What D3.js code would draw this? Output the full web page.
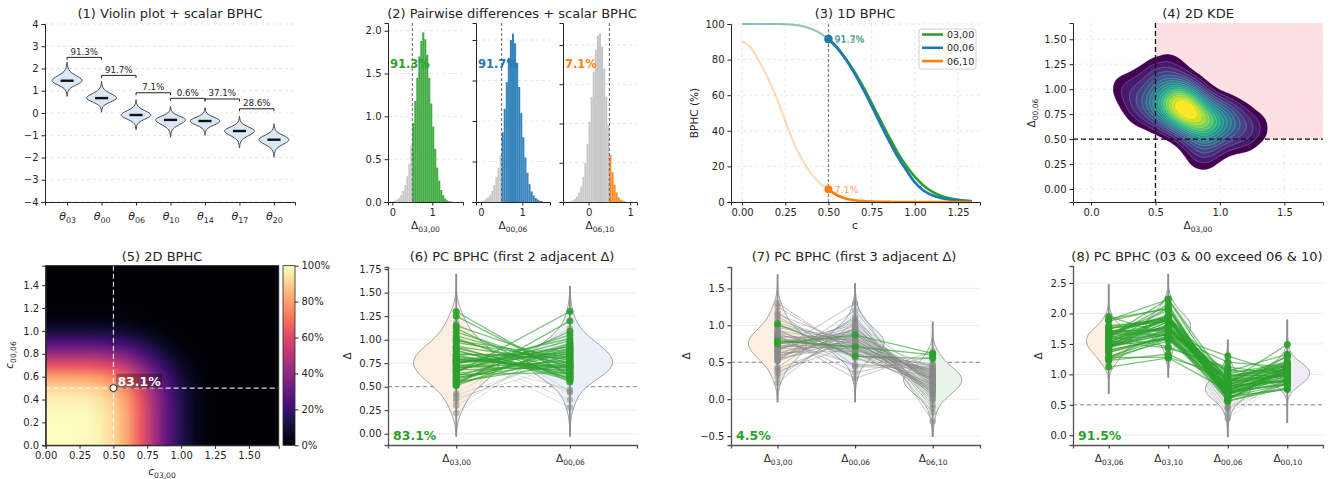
<!DOCTYPE html>
<html>
<head>
<meta charset="utf-8">
<script src="https://cdn.jsdelivr.net/npm/d3@7"></script>
<style>
body { margin: 0; background: #fff; }
svg { font-family: "DejaVu Sans", sans-serif; }
</style>
</head>
<body>
<svg id="fig" width="1337" height="479"></svg>
<script>
// ---------- (1) violins of the thetas ----------
var thetaLabels = ["03", "00", "06", "10", "14", "17", "20"];
var thetaMedian = [1.45, 0.67, -0.09, -0.31, -0.36, -0.81, -1.20];
var thetaLow    = [0.75, 0.04, -0.75, -1.08, -1.00, -1.57, -1.98];
var thetaHigh   = [2.29, 1.42, 0.60, 0.30, 0.24, -0.15, -0.48];
var violinShape = [1, 0.93, 0.76, 0.55, 0.35, 0.20, 0.11, 0.06, 0.03, 0.015, 0.005];
var adjBphc     = ["91.3%", "91.7%", "7.1%", "0.6%", "37.1%", "28.6%"];
var bracketY    = [2.50, 1.69, 0.91, 0.66, 0.63, 0.19];

// ---------- (2) histograms of pairwise differences ----------
var pairLabels = ["03,00", "00,06", "06,10"];
var pairBphc   = ["91.3%", "91.7%", "7.1%"];
var histStart  = [0.0, 0.0, -0.5];
var hist0300 = [0.01, 0.02, 0.03, 0.05, 0.08, 0.13, 0.20, 0.30, 0.45, 0.66, 0.92, 1.18, 1.45, 1.70, 1.88,
                1.98, 1.90, 1.72, 1.45, 1.15, 0.88, 0.62, 0.40, 0.25, 0.14, 0.08, 0.04, 0.02, 0.01, 0.005];
var hist0006 = [0.01, 0.02, 0.04, 0.06, 0.09, 0.14, 0.21, 0.31, 0.42, 0.58, 0.86, 1.15, 1.48, 1.78, 2.00,
                2.08, 1.96, 1.72, 1.42, 1.10, 0.80, 0.55, 0.36, 0.22, 0.13, 0.08, 0.05, 0.03, 0.015, 0.01];
var hist0610 = [0.005, 0.01, 0.02, 0.04, 0.07, 0.12, 0.20, 0.32, 0.50, 0.74, 1.02, 1.34, 1.66, 1.94,
                2.12, 2.15, 1.98, 1.70, 1.34, 0.98, 0.60, 0.38, 0.22, 0.12, 0.06, 0.03, 0.015, 0.008];

// ---------- (3) 1D BPHC curves ----------
var cGrid    = [0, 0.05, 0.1, 0.15, 0.2, 0.25, 0.3, 0.35, 0.4, 0.45, 0.5, 0.55, 0.6, 0.65, 0.7,
                0.75, 0.8, 0.85, 0.9, 0.95, 1.0, 1.05, 1.1, 1.15, 1.2, 1.25, 1.3, 1.33];
var bphc0300 = [100, 100, 100, 100, 100, 99.9, 99.5, 98.7, 97.1, 94.8, 91.3, 86.6, 80.5, 73.2, 64.8,
                55.6, 46.0, 36.7, 27.9, 20.3, 14.1, 9.3, 5.8, 3.5, 2.1, 1.2, 0.7, 0.5];
var bphc0006 = [100, 100, 100, 100, 100, 99.9, 99.6, 98.9, 97.4, 95.2, 91.7, 86.7, 80.2, 72.4, 63.5,
                54.0, 44.0, 34.5, 25.5, 18.0, 11.0, 6.5, 3.8, 2.3, 1.4, 0.8, 0.5, 0.4];
var bphc0610 = [90.4, 86.8, 79.0, 69.5, 58.5, 45.5, 33.0, 23.5, 16.0, 10.5, 7.1, 3.8, 2.0, 1.0, 0.5,
                0.25, 0.1, 0.05, 0, 0, 0, 0, 0, 0, 0, 0, 0, 0];

// ---------- (5) 2D BPHC grid (rows: c00,06 from 0 upward, cols: c03,00) ----------
var heatC1 = [0, 0.1, 0.2, 0.3, 0.4, 0.5, 0.6, 0.7, 0.8, 0.9, 1.0, 1.1, 1.2, 1.3, 1.4, 1.5, 1.6, 1.7];
var heatC2 = [0, 0.1, 0.2, 0.3, 0.4, 0.5, 0.6, 0.7, 0.8, 0.9, 1.0, 1.1, 1.2, 1.3, 1.4, 1.5, 1.6];
var bphc2d = [
  [100, 100, 100, 99.5, 97.1, 91.3, 80.5, 64.8, 46.0, 27.9, 14.1, 5.8, 2.1, 0.7, 0.2, 0.05, 0, 0],
  [100, 100, 100, 99.5, 97.1, 91.3, 80.5, 64.8, 46.0, 27.9, 14.1, 5.8, 2.1, 0.7, 0.2, 0.05, 0, 0],
  [100, 100, 100, 99.5, 97.1, 91.3, 80.5, 64.8, 46.0, 27.9, 14.1, 5.8, 2.1, 0.7, 0.2, 0.05, 0, 0],
  [99.6, 99.6, 99.6, 99.1, 96.7, 90.9, 80.2, 64.5, 45.8, 27.8, 14.0, 5.8, 2.1, 0.7, 0.2, 0, 0, 0],
  [97.4, 97.4, 97.4, 96.9, 94.5, 88.8, 78.3, 63.0, 44.7, 27.1, 13.7, 5.6, 2.0, 0.7, 0.2, 0, 0, 0],
  [91.7, 91.7, 91.7, 91.2, 89.0, 83.1, 73.6, 59.0, 41.7, 25.2, 12.7, 5.2, 1.9, 0.6, 0.2, 0, 0, 0],
  [80.2, 80.2, 80.2, 79.8, 77.8, 72.9, 63.8, 50.5, 35.2, 20.8, 10.2, 4.1, 1.5, 0.5, 0.1, 0, 0, 0],
  [63.5, 63.5, 63.5, 63.2, 61.6, 57.6, 50.0, 39.0, 26.5, 15.2, 7.2, 2.8, 1.0, 0.3, 0.1, 0, 0, 0],
  [44.0, 44.0, 44.0, 43.8, 42.6, 39.8, 34.2, 26.0, 17.0, 9.3, 4.2, 1.6, 0.5, 0.2, 0, 0, 0, 0],
  [25.5, 25.5, 25.5, 25.4, 24.7, 23.0, 19.5, 14.5, 9.2, 4.9, 2.1, 0.8, 0.3, 0.1, 0, 0, 0, 0],
  [11.0, 11.0, 11.0, 10.9, 10.6, 9.9, 8.3, 6.1, 3.8, 2.0, 0.8, 0.3, 0.1, 0, 0, 0, 0, 0],
  [3.8, 3.8, 3.8, 3.8, 3.7, 3.4, 2.8, 2.0, 1.2, 0.6, 0.2, 0.1, 0, 0, 0, 0, 0, 0],
  [1.5, 1.5, 1.5, 1.5, 1.4, 1.3, 1.1, 0.8, 0.5, 0.2, 0.1, 0, 0, 0, 0, 0, 0, 0],
  [0.5, 0.5, 0.5, 0.5, 0.5, 0.4, 0.3, 0.2, 0.1, 0, 0, 0, 0, 0, 0, 0, 0, 0],
  [0.1, 0.1, 0.1, 0.1, 0.1, 0.1, 0.1, 0, 0, 0, 0, 0, 0, 0, 0, 0, 0, 0],
  [0, 0, 0, 0, 0, 0, 0, 0, 0, 0, 0, 0, 0, 0, 0, 0, 0, 0],
  [0, 0, 0, 0, 0, 0, 0, 0, 0, 0, 0, 0, 0, 0, 0, 0, 0, 0]
];

// ---------- (4), (6)-(8) posterior draws of the differences ----------
var d0300 = [0.78, 0.55, 1.02, 0.66, 0.91, 0.72, 0.43, 0.84, 1.18, 0.61, 0.79, 0.95, 0.35, 0.70, 0.88,
             1.08, 0.52, 0.76, 0.64, 0.99, 0.81, 0.53, 1.25, 0.74, 0.58, 0.86, 0.69, 0.93, 0.30, 0.77,
             1.12, 0.63, 0.83, 0.56, 0.97, 0.73, 0.41, 0.89, 0.67, 1.04, 0.80, 0.60, 0.75, 1.30, 0.51,
             0.85, 0.71, 0.92, 0.38, 0.82, 0.65, 1.15, 0.54, 0.79, 0.87, 0.22, 0.68, 1.00, 0.76, 0.59];
var d0006 = [0.92, 0.74, 0.58, 1.05, 0.62, 0.68, 1.12, 0.85, 0.45, 0.96, 0.71, 0.44, 0.88, 0.77, 0.59,
             0.70, 1.20, 0.90, 0.79, 0.81, 0.66, 0.83, 0.63, 1.01, 0.86, 0.36, 0.89, 0.75, 0.98, 0.84,
             0.55, 0.65, 0.64, 0.91, 0.78, 0.73, 0.82, 0.57, 0.99, 0.72, 0.47, 0.76, 0.87, 0.61, 0.95,
             0.80, 0.93, 0.60, 0.74, 0.69, 1.30, 0.74, 1.09, 0.70, 0.28, 1.05, 0.71, 0.66, 0.82, 0.88];
var d0610 = [0.05, 0.31, 0.55, 0.02, 0.41, 0.19, -0.12, 0.28, 0.47, 0.22, 0.60, 0.42, 0.10, 0.35, 0.48,
             0.14, -0.08, -0.02, 0.30, 0.09, 0.45, 0.27, 0.21, 0.18, 0.43, 0.58, 0.33, 0.26, 0.00, 0.16,
             0.29, 0.40, 0.11, 0.23, 0.13, 0.33, 0.36, 0.20, 0.07, 0.12, 0.44, 0.25, 0.62, 0.17, 0.20,
             0.31, 0.24, 0.38, 0.15, 0.29, -0.30, 0.34, -0.18, 0.37, 0.65, 0.28, 0.22, 0.39, 0.06, 0.26];
var d0306 = [1.70, 1.29, 1.60, 1.71, 1.53, 1.40, 1.55, 1.69, 1.63, 1.57, 1.50, 1.39, 1.23, 1.47, 1.47,
             1.78, 1.72, 1.66, 1.43, 1.80, 1.47, 1.36, 1.88, 1.75, 1.44, 1.22, 1.58, 1.68, 1.28, 1.61,
             1.67, 1.28, 1.47, 1.47, 1.75, 1.46, 1.23, 1.46, 1.66, 1.76, 1.27, 1.36, 1.62, 1.91, 1.46,
             1.65, 1.64, 1.52, 1.12, 1.51, 1.95, 1.89, 1.63, 1.49, 1.15, 1.27, 1.39, 1.66, 1.58, 1.47];
var d0310 = [1.75, 1.60, 2.15, 1.73, 1.94, 1.59, 1.43, 1.97, 2.10, 1.79, 2.10, 1.81, 1.33, 1.82, 1.95,
             1.92, 1.64, 1.64, 1.73, 1.89, 1.92, 1.63, 2.09, 1.93, 1.87, 1.80, 1.91, 1.94, 1.28, 1.77,
             1.96, 1.68, 1.58, 1.70, 1.88, 1.79, 1.59, 1.66, 1.73, 1.88, 1.71, 1.61, 2.24, 2.08, 1.66,
             1.96, 1.88, 1.90, 1.27, 1.80, 1.65, 2.23, 1.45, 1.86, 1.80, 1.55, 1.61, 2.05, 1.64, 1.73];
var d0010 = [0.97, 1.05, 1.13, 1.07, 1.03, 0.87, 1.00, 1.13, 0.92, 1.18, 1.31, 0.86, 0.98, 1.12, 1.07,
             0.84, 1.12, 0.88, 1.09, 0.90, 1.11, 1.10, 0.84, 1.19, 1.29, 0.94, 1.22, 1.01, 0.98, 1.00,
             0.84, 1.05, 0.75, 1.14, 0.91, 1.06, 1.18, 0.77, 1.06, 0.84, 0.91, 1.01, 1.49, 0.78, 1.15,
             1.11, 1.17, 0.98, 0.89, 0.98, 1.00, 1.08, 0.91, 1.07, 0.93, 1.33, 0.93, 1.05, 0.88, 1.14];
var ext6 = [[-0.03, 1.70], [-0.03, 1.57]];
var ext7 = [[-0.04, 1.69], [-0.04, 1.57], [-0.51, 1.05]];
var ext8 = [[0.68, 2.48], [0.95, 2.65], [-0.03, 1.57], [0.20, 1.90]];
var pcBphc = ["83.1%", "4.5%", "91.5%"];

// tick values
var ticks6 = [0, 0.25, 0.5, 0.75, 1.0, 1.25, 1.5, 1.75];
var ticks7 = [-0.5, 0, 0.5, 1.0, 1.5];
var ticks8 = [0, 0.5, 1.0, 1.5, 2.0, 2.5];

var svg = d3.select("#fig");
var FONT = "DejaVu Sans";
var INK = "#262626";
var GREEN = "#2ca02c", BLUE = "#1f77b4", ORANGE = "#ff7f0e";

function styleAxis(g, spine, sw) {
    g.attr("font-family", FONT).attr("font-size", 10);
    g.select(".domain").attr("stroke", spine || INK).attr("stroke-width", sw || 1);
    g.selectAll(".tick line").attr("stroke", INK);
    g.selectAll(".tick text").attr("fill", INK);
    return g;
}

// main text + subscript, e.g. Δ_{03,00}
function subText(sel, main, sub, size, italic) {
    sel.text(null).style("font-size", size + "px");
    sel.append("tspan").style("font-style", italic ? "italic" : "normal").text(main);
    sel.append("tspan").attr("dy", size * 0.32).style("font-size", (size * 0.72) + "px").text(sub);
    return sel;
}

function addText(x, y, size, txt) {
    return svg.append("text").attr("x", x).attr("y", y).attr("text-anchor", "middle")
        .attr("fill", INK).style("font-size", size + "px").text(txt);
}

function hgrid(g, y, vals, x0, x1, color, dash) {
    g.append("g").selectAll("line").data(vals).join("line")
        .attr("x1", x0).attr("x2", x1)
        .attr("y1", function (d) { return y(d); }).attr("y2", function (d) { return y(d); })
        .attr("stroke", color).attr("stroke-width", 0.8).attr("stroke-dasharray", dash);
}

function vgrid(g, x, vals, y0, y1, color, dash) {
    g.append("g").selectAll("line").data(vals).join("line")
        .attr("y1", y0).attr("y2", y1)
        .attr("x1", function (d) { return x(d); }).attr("x2", function (d) { return x(d); })
        .attr("stroke", color).attr("stroke-width", 0.8).attr("stroke-dasharray", dash);
}

// ================= (1) Violin plot + scalar BPHC =================
(function () {
    var X0 = 45, X1 = 295, Y0 = 24, Y1 = 202;
    var x = d3.scaleLinear().domain([-0.64, 6.61]).range([X0, X1]);
    var y = d3.scaleLinear().domain([-4, 4]).range([Y1, Y0]);
    var g = svg.append("g");
    hgrid(g, y, y.ticks(8), X0, X1, "#dcdcdc", "3,3");

    var hw = 0.435, n = violinShape.length - 1;
    thetaLabels.forEach(function (lab, i) {
        var pts = [];
        for (var k = n; k >= 0; k--) pts.push([thetaMedian[i] - (thetaMedian[i] - thetaLow[i]) * k / n, violinShape[k]]);
        for (var k2 = 1; k2 <= n; k2++) pts.push([thetaMedian[i] + (thetaHigh[i] - thetaMedian[i]) * k2 / n, violinShape[k2]]);
        var area = d3.area().curve(d3.curveCatmullRom)
            .y(function (d) { return y(d[0]); })
            .x0(function (d) { return x(i - hw * d[1]); })
            .x1(function (d) { return x(i + hw * d[1]); });
        g.append("path").attr("d", area(pts)).attr("fill", "#dbe8f5")
            .attr("stroke", "#3a3a3a").attr("stroke-width", 0.9);
        g.append("line").attr("x1", x(i - 0.19)).attr("x2", x(i + 0.19))
            .attr("y1", y(thetaMedian[i])).attr("y2", y(thetaMedian[i]))
            .attr("stroke", "#111").attr("stroke-width", 2.4);
    });

    adjBphc.forEach(function (t, i) {
        var yy = y(bracketY[i]);
        g.append("path").attr("d", "M" + x(i) + "," + (yy + 2.5) + "V" + yy + "H" + x(i + 1) + "V" + (yy + 2.5))
            .attr("fill", "none").attr("stroke", "#222").attr("stroke-width", 1);
        g.append("text").attr("x", (x(i) + x(i + 1)) / 2).attr("y", yy - 2.5)
            .attr("text-anchor", "middle").attr("fill", INK).style("font-size", "8.7px").text(t);
    });

    styleAxis(g.append("g").attr("transform", "translate(" + X0 + ",0)")
        .call(d3.axisLeft(y).tickValues(y.ticks(8)).tickFormat(d3.format("d")).tickSizeOuter(0).tickSize(3.5)));
    var ax = styleAxis(g.append("g").attr("transform", "translate(0," + Y1 + ")")
        .call(d3.axisBottom(x).tickValues(thetaLabels.map(function (d, i) { return i; })).tickSizeOuter(0).tickSize(3.5)));
    ax.selectAll(".tick text").attr("dy", "1.0em").each(function (d) {
        subText(d3.select(this), "θ", thetaLabels[d], 11, true);
    });
    addText(170, 18, 13, "(1) Violin plot + scalar BPHC");
})();

// ================= (2) Pairwise differences + scalar BPHC =================
(function () {
    var Y0 = 23, Y1 = 202, bw = 0.05;
    var subs = [
        { X0: 388, X1: 463, dom: [-0.11, 1.77], top: 2.09, dens: hist0300, col: GREEN },
        { X0: 476, X1: 550, dom: [-0.12, 1.67], top: 2.21, dens: hist0006, col: BLUE },
        { X0: 563, X1: 637, dom: [-0.615, 1.165], top: 2.28, dens: hist0610, col: ORANGE }
    ];
    var yt = [0, 0.5, 1.0, 1.5, 2.0];
    subs.forEach(function (s, j) {
        var x = d3.scaleLinear().domain(s.dom).range([s.X0, s.X1]);
        var y = d3.scaleLinear().domain([0, s.top]).range([Y1, Y0]);
        var g = svg.append("g");
        hgrid(g, y, yt.slice(1), s.X0, s.X1, "#dedede", "3,3");
        var start = histStart[j];
        g.append("g").selectAll("rect").data(s.dens).join("rect")
            .attr("x", function (d, i) { return x(start + i * bw); })
            .attr("width", function (d, i) { return x(start + (i + 1) * bw) - x(start + i * bw); })
            .attr("y", function (d) { return y(d); })
            .attr("height", function (d) { return Y1 - y(d); })
            .attr("fill", function (d, i) { return start + i * bw > 0.5 - 1e-9 ? s.col : "#c8c8c8"; })
            .attr("fill-opacity", function (d, i) { return start + i * bw > 0.5 - 1e-9 ? 0.9 : 1; });
        g.append("line").attr("x1", x(0.5)).attr("x2", x(0.5)).attr("y1", Y0).attr("y2", Y1)
            .attr("stroke", "#666").attr("stroke-width", 1).attr("stroke-dasharray", "3,2");
        g.append("text").attr("x", s.X0 + 2).attr("y", 68).attr("fill", s.col)
            .style("font-size", "11.5px").style("font-weight", "bold").text(pairBphc[j]);
        styleAxis(g.append("g").attr("transform", "translate(" + s.X0 + ",0)")
            .call(d3.axisLeft(y).tickValues(yt).tickFormat(j === 0 ? d3.format(".1f") : function () { return ""; })
                .tickSizeOuter(0).tickSize(3.5)));
        styleAxis(g.append("g").attr("transform", "translate(0," + Y1 + ")")
            .call(d3.axisBottom(x).tickValues([0, 1]).tickFormat(d3.format("d")).tickSizeOuter(0).tickSize(3.5)));
        subText(addText((s.X0 + s.X1) / 2, 229, 10.5, ""), "Δ", pairLabels[j], 10.5, false);
    });
    addText(512, 18, 13, "(2) Pairwise differences + scalar BPHC");
})();

// ================= (3) 1D BPHC =================
(function () {
    var X0 = 731, X1 = 980, Y0 = 24, Y1 = 202;
    var x = d3.scaleLinear().domain([-0.064, 1.377]).range([X0, X1]);
    var y = d3.scaleLinear().domain([0, 100]).range([Y1, Y0]);
    var g = svg.append("g");
    var xt = [0, 0.25, 0.5, 0.75, 1.0, 1.25], yt = [0, 20, 40, 60, 80, 100];
    vgrid(g, x, xt, Y0, Y1, "#e2e2e2", "3,3");
    hgrid(g, y, yt, X0, X1, "#e2e2e2", "3,3");
    g.append("line").attr("x1", x(0.5)).attr("x2", x(0.5)).attr("y1", Y0).attr("y2", Y1)
        .attr("stroke", "#888").attr("stroke-width", 1.3).attr("stroke-dasharray", "3,2");

    var series = [
        { v: bphc0300, col: GREEN, lab: pairLabels[0], txt: pairBphc[0] },
        { v: bphc0006, col: BLUE, lab: pairLabels[1], txt: pairBphc[1] },
        { v: bphc0610, col: ORANGE, lab: pairLabels[2], txt: pairBphc[2] }
    ];
    var line = d3.line().curve(d3.curveMonotoneX)
        .x(function (d) { return x(d[0]); }).y(function (d) { return y(d[1]); });
    var iHalf = cGrid.indexOf(0.5);
    series.forEach(function (s) {
        var pts = cGrid.map(function (c, i) { return [c, s.v[i]]; });
        g.append("path").attr("d", line(pts.slice(0, iHalf + 1))).attr("fill", "none")
            .attr("stroke", s.col).attr("stroke-opacity", 0.3).attr("stroke-width", 2);
    });
    series.forEach(function (s) {
        var pts = cGrid.map(function (c, i) { return [c, s.v[i]]; });
        g.append("path").attr("d", line(pts.slice(iHalf))).attr("fill", "none")
            .attr("stroke", s.col).attr("stroke-width", 2.6);
    });
    series.forEach(function (s) {
        g.append("circle").attr("cx", x(0.5)).attr("cy", y(s.v[iHalf])).attr("r", 4).attr("fill", s.col);
        g.append("text").attr("x", x(0.5) + 6).attr("y", y(s.v[iHalf]) + 3.5).attr("fill", s.col)
            .attr("fill-opacity", 0.75).style("font-size", "9.5px").text(s.txt);
    });

    // legend
    var L = g.append("g").attr("transform", "translate(919,29)");
    L.append("rect").attr("width", 57).attr("height", 40).attr("rx", 2)
        .attr("fill", "#fff").attr("fill-opacity", 0.85).attr("stroke", "#d0d0d0");
    series.forEach(function (s, i) {
        var yy = 5.5 + i * 13.3;
        L.append("line").attr("x1", 3).attr("x2", 24).attr("y1", yy).attr("y2", yy)
            .attr("stroke", s.col).attr("stroke-width", 2.6);
        L.append("text").attr("x", 28).attr("y", yy + 3.4).attr("fill", INK)
            .style("font-size", "9.5px").text(s.lab);
    });

    styleAxis(g.append("g").attr("transform", "translate(" + X0 + ",0)")
        .call(d3.axisLeft(y).tickValues(yt).tickFormat(d3.format("d")).tickSizeOuter(0).tickSize(3.5)));
    styleAxis(g.append("g").attr("transform", "translate(0," + Y1 + ")")
        .call(d3.axisBottom(x).tickValues(xt).tickFormat(d3.format(".2f")).tickSizeOuter(0).tickSize(3.5)));
    addText(855, 229, 10.5, "c");
    addText(0, 0, 10.5, "BPHC (%)").attr("transform", "translate(698,113) rotate(-90)");
    addText(855, 18, 13, "(3) 1D BPHC");
})();

// ================= (4) 2D KDE =================
(function () {
    var X0 = 1073, X1 = 1323, Y0 = 23, Y1 = 202;
    var x = d3.scaleLinear().domain([-0.14, 1.80]).range([X0, X1]);
    var y = d3.scaleLinear().domain([-0.13, 1.663]).range([Y1, Y0]);
    var g = svg.append("g");
    g.append("rect").attr("x", x(0.5)).attr("y", Y0).attr("width", X1 - x(0.5)).attr("height", y(0.5) - Y0)
        .attr("fill", "#fde0e1");
    var xt = [0, 0.5, 1.0, 1.5], yt = [0, 0.25, 0.5, 0.75, 1.0, 1.25, 1.5];
    vgrid(g, x, xt, Y0, Y1, "#e4e4e4", "3,3");
    hgrid(g, y, yt, X0, X1, "#e4e4e4", "3,3");

    var pairs = d0300.map(function (v, i) { return [v, d0006[i]]; });
    var dens = d3.contourDensity()
        .x(function (d) { return x(d[0]) - X0; })
        .y(function (d) { return y(d[1]) - Y0; })
        .size([X1 - X0, Y1 - Y0]).cellSize(2).bandwidth(12);
    var probe = dens.thresholds(80)(pairs);
    var vmax = d3.max(probe, function (c) { return c.value; });
    var nLev = 16;
    var levels = d3.range(nLev).map(function (k) { return vmax * (0.09 + 0.84 * k / (nLev - 1)); });
    var contours = dens.thresholds(levels)(pairs);
    g.append("g").attr("transform", "translate(" + X0 + "," + Y0 + ")")
        .selectAll("path").data(contours).join("path")
        .attr("d", d3.geoPath())
        .attr("fill", function (d, i) { return d3.interpolateViridis(i / (nLev - 1)); })
        .attr("stroke", "#fff").attr("stroke-opacity", 0.35).attr("stroke-width", 0.6);

    g.append("line").attr("x1", x(0.5)).attr("x2", x(0.5)).attr("y1", Y0).attr("y2", Y1)
        .attr("stroke", "#111").attr("stroke-width", 1.3).attr("stroke-dasharray", "5,3");
    g.append("line").attr("x1", X0).attr("x2", X1).attr("y1", y(0.5)).attr("y2", y(0.5))
        .attr("stroke", "#111").attr("stroke-width", 1.3).attr("stroke-dasharray", "5,3");

    styleAxis(g.append("g").attr("transform", "translate(" + X0 + ",0)")
        .call(d3.axisLeft(y).tickValues(yt).tickFormat(d3.format(".2f")).tickSizeOuter(0).tickSize(3.5)));
    styleAxis(g.append("g").attr("transform", "translate(0," + Y1 + ")")
        .call(d3.axisBottom(x).tickValues(xt).tickFormat(d3.format(".1f")).tickSizeOuter(0).tickSize(3.5)));
    subText(addText(1198, 229, 10.5, ""), "Δ", pairLabels[0], 10.5, false);
    subText(addText(0, 0, 10.5, "").attr("transform", "translate(1035,113) rotate(-90)"), "Δ", pairLabels[1], 10.5, false);
    addText(1198, 18, 13, "(4) 2D KDE");
})();

// ================= (5) 2D BPHC =================
(function () {
    var X0 = 45.7, X1 = 278.7, Y0 = 265.7, Y1 = 445.3;
    var x = d3.scaleLinear().domain([0, 1.72]).range([X0, X1]);
    var y = d3.scaleLinear().domain([0, 1.57]).range([Y1, Y0]);
    var color = d3.scaleSequential(d3.interpolateMagma).domain([0, 100]);
    var nx = heatC1.length, ny = heatC2.length;

    var small = document.createElement("canvas");
    small.width = nx; small.height = ny;
    var sctx = small.getContext("2d");
    var img = sctx.createImageData(nx, ny);
    bphc2d.forEach(function (row, r) {
        row.forEach(function (v, c) {
            var col = d3.rgb(color(v));
            var p = ((ny - 1 - r) * nx + c) * 4;
            img.data[p] = col.r; img.data[p + 1] = col.g; img.data[p + 2] = col.b; img.data[p + 3] = 255;
        });
    });
    sctx.putImageData(img, 0, 0);
    var S = 2, W = X1 - X0, H = Y1 - Y0;
    var big = document.createElement("canvas");
    big.width = Math.round(W * S); big.height = Math.round(H * S);
    var bctx = big.getContext("2d");
    bctx.imageSmoothingEnabled = true;
    var sx = heatC1[1] - heatC1[0], sy = heatC2[1] - heatC2[0];
    var left = x(heatC1[0] - sx / 2), right = x(heatC1[nx - 1] + sx / 2);
    var top = y(heatC2[ny - 1] + sy / 2), bottom = y(heatC2[0] - sy / 2);
    bctx.drawImage(small, (left - X0) * S, (top - Y0) * S, (right - left) * S, (bottom - top) * S);
    var g = svg.append("g");
    g.append("image").attr("x", X0).attr("y", Y0).attr("width", W).attr("height", H)
        .attr("preserveAspectRatio", "none").attr("href", big.toDataURL());

    g.append("line").attr("x1", x(0.5)).attr("x2", x(0.5)).attr("y1", Y0).attr("y2", Y1)
        .attr("stroke", "#fff").attr("stroke-opacity", 0.85).attr("stroke-width", 1.2).attr("stroke-dasharray", "5,3");
    g.append("line").attr("x1", X0).attr("x2", X1).attr("y1", y(0.5)).attr("y2", y(0.5))
        .attr("stroke", "#fff").attr("stroke-opacity", 0.85).attr("stroke-width", 1.2).attr("stroke-dasharray", "5,3");

    var v55 = bphc2d[heatC2.indexOf(0.5)][heatC1.indexOf(0.5)];
    var box = g.append("rect").attr("fill", "#000").attr("fill-opacity", 0.3);
    var t = g.append("text").attr("x", x(0.5) + 4).attr("y", y(0.5) - 2.5).attr("fill", "#fff")
        .style("font-size", "12.5px").style("font-weight", "bold").text(d3.format(".1f")(v55) + "%");
    var bb = t.node().getBBox();
    box.attr("x", bb.x - 1).attr("y", bb.y).attr("width", bb.width + 2).attr("height", bb.height);
    g.append("circle").attr("cx", x(0.5)).attr("cy", y(0.5)).attr("r", 3.5)
        .attr("fill", "#fff").attr("stroke", "#222").attr("stroke-width", 1);

    g.append("rect").attr("x", X0).attr("y", Y0).attr("width", W).attr("height", H)
        .attr("fill", "none").attr("stroke", INK).attr("stroke-width", 1);
    styleAxis(g.append("g").attr("transform", "translate(" + X0 + ",0)")
        .call(d3.axisLeft(y).tickValues([0, 0.2, 0.4, 0.6, 0.8, 1.0, 1.2, 1.4]).tickFormat(d3.format(".1f")).tickSizeOuter(0).tickSize(3.5)));
    styleAxis(g.append("g").attr("transform", "translate(0," + Y1 + ")")
        .call(d3.axisBottom(x).tickValues([0, 0.25, 0.5, 0.75, 1.0, 1.25, 1.5]).tickFormat(d3.format(".2f")).tickSizeOuter(0).tickSize(3.5)));

    // colorbar
    var CB0 = 283, CBW = 12;
    var cy = d3.scaleLinear().domain([0, 100]).range([Y1, Y0]);
    var grad = svg.append("defs").append("linearGradient").attr("id", "magma")
        .attr("x1", 0).attr("y1", 1).attr("x2", 0).attr("y2", 0);
    d3.range(0, 1.0001, 0.05).forEach(function (f) {
        grad.append("stop").attr("offset", f).attr("stop-color", d3.interpolateMagma(f));
    });
    g.append("rect").attr("x", CB0).attr("y", Y0).attr("width", CBW).attr("height", H)
        .attr("fill", "url(#magma)").attr("stroke", INK).attr("stroke-width", 0.8);
    styleAxis(g.append("g").attr("transform", "translate(" + (CB0 + CBW) + ",0)")
        .call(d3.axisRight(cy).tickValues([0, 20, 40, 60, 80, 100]).tickFormat(function (d) { return d + "%"; }).tickSizeOuter(0).tickSize(3.5)))
        .select(".domain").attr("stroke", "none");

    subText(addText(162, 475, 10.5, ""), "c", pairLabels[0], 10.5, true);
    subText(addText(0, 0, 10.5, "").attr("transform", "translate(13,355) rotate(-90)"), "c", pairLabels[1], 10.5, true);
    addText(162, 261, 13, "(5) 2D BPHC");
})();

// ================= (6)-(8) parallel coordinates =================
function pcPanel(o) {
    var x = d3.scaleLinear().domain(o.xdom).range([o.X0, o.X1]);
    var y = d3.scaleLinear().domain(o.ydom).range([o.Y1, o.Y0]);
    var g = svg.append("g");
    hgrid(g, y, o.yticks, o.X0, o.X1, "#e8e8e8", null);
    g.append("line").attr("x1", o.X0).attr("x2", o.X1).attr("y1", y(0.5)).attr("y2", y(0.5))
        .attr("stroke", "#888").attr("stroke-width", 1).attr("stroke-dasharray", "4,3");

    var half = 0.375, bwK = 0.11;
    o.series.forEach(function (vals, i) {
        var lo = o.extents[i][0], hi = o.extents[i][1], n = 80;
        var prof = d3.range(n + 1).map(function (k) {
            var t = lo + (hi - lo) * k / n;
            return [t, d3.mean(vals, function (v) { return Math.exp(-0.5 * Math.pow((t - v) / bwK, 2)); })];
        });
        var mx = d3.max(prof, function (d) { return d[1]; });
        var area = d3.area()
            .y(function (d) { return y(d[0]); })
            .x0(function (d) { return x(i - half * d[1] / mx); })
            .x1(function (d) { return x(i + half * d[1] / mx); });
        g.append("path").attr("d", area(prof)).attr("fill", o.vcols[i])
            .attr("stroke", "#8c8c8c").attr("stroke-width", 0.8);
    });
    o.extents.forEach(function (e, i) {
        g.append("line").attr("x1", x(i)).attr("x2", x(i)).attr("y1", y(e[0])).attr("y2", y(e[1]))
            .attr("stroke", "#8c8c8c").attr("stroke-width", 1.8);
    });

    var idx = o.series[0].map(function (d, k) { return k; });
    var pass = idx.map(function (k) { return o.series.every(function (s) { return s[k] > 0.5; }); });
    var rows = idx.map(function (k) { return o.series.map(function (s, i) { return [i, s[k]]; }); });
    var line = d3.line().x(function (d) { return x(d[0]); }).y(function (d) { return y(d[1]); });
    var fail = idx.filter(function (k) { return !pass[k]; });
    var ok = idx.filter(function (k) { return pass[k]; });
    g.append("g").selectAll("path").data(fail).join("path")
        .attr("d", function (k) { return line(rows[k]); }).attr("fill", "none")
        .attr("stroke", "#8a8a8a").attr("stroke-opacity", o.grayOp).attr("stroke-width", 1);
    g.append("g").selectAll("path").data(ok).join("path")
        .attr("d", function (k) { return line(rows[k]); }).attr("fill", "none")
        .attr("stroke", GREEN).attr("stroke-opacity", 0.62).attr("stroke-width", 1.3);
    var dotsFail = [], dotsOk = [];
    fail.forEach(function (k) { rows[k].forEach(function (p) { dotsFail.push(p); }); });
    ok.forEach(function (k) { rows[k].forEach(function (p) { dotsOk.push(p); }); });
    g.append("g").selectAll("circle").data(dotsFail).join("circle")
        .attr("cx", function (d) { return x(d[0]); }).attr("cy", function (d) { return y(d[1]); })
        .attr("r", 3.2).attr("fill", "#888").attr("fill-opacity", 0.55);
    g.append("g").selectAll("circle").data(dotsOk).join("circle")
        .attr("cx", function (d) { return x(d[0]); }).attr("cy", function (d) { return y(d[1]); })
        .attr("r", 3.5).attr("fill", GREEN).attr("fill-opacity", 0.9);

    g.append("text").attr("x", o.X0 + 5).attr("y", 440).attr("fill", GREEN)
        .style("font-size", "12.5px").style("font-weight", "bold").text(o.pct);

    styleAxis(g.append("g").attr("transform", "translate(" + o.X0 + ",0)")
        .call(d3.axisLeft(y).tickValues(o.yticks).tickFormat(d3.format(o.yfmt)).tickSizeOuter(0).tickSize(3.5)), "#555", 1.3);
    var ax = styleAxis(g.append("g").attr("transform", "translate(0," + o.Y1 + ")")
        .call(d3.axisBottom(x).tickValues(o.cats.map(function (d, i) { return i; })).tickSizeOuter(0).tickSize(3.5)), "#555", 1.3);
    ax.selectAll(".tick text").attr("dy", "1.0em").each(function (d) {
        subText(d3.select(this), "Δ", o.cats[d], 10.5, false);
    });
    addText(0, 0, 10.5, "Δ").attr("transform", "translate(" + o.ylabX + ",356) rotate(-90)");
    addText(o.titleX, 261, 13, o.title);
}

pcPanel({
    X0: 388, X1: 637, Y0: 267, Y1: 445, xdom: [-0.6, 1.59], ydom: [-0.12, 1.773],
    cats: ["03,00", "00,06"], series: [d0300, d0006], extents: ext6, grayOp: 0.25,
    vcols: ["#fdf0e3", "#e9f0f7"], yticks: ticks6, yfmt: ".2f", pct: pcBphc[0],
    ylabX: 351, titleX: 512, title: "(6) PC BPHC (first 2 adjacent Δ)"
});
pcPanel({
    X0: 731, X1: 980, Y0: 267, Y1: 445, xdom: [-0.6, 2.61], ydom: [-0.62, 1.79],
    cats: ["03,00", "00,06", "06,10"], series: [d0300, d0006, d0610], extents: ext7, grayOp: 0.5,
    vcols: ["#fdf0e3", "#e9f0f7", "#e7f4e9"], yticks: ticks7, yfmt: ".1f", pct: pcBphc[1],
    ylabX: 690, titleX: 854, title: "(7) PC BPHC (first 3 adjacent Δ)"
});
pcPanel({
    X0: 1073, X1: 1323, Y0: 266, Y1: 445, xdom: [-0.6, 3.6], ydom: [-0.16, 2.78],
    cats: ["03,06", "03,10", "00,06", "00,10"], series: [d0306, d0310, d0006, d0010], extents: ext8, grayOp: 0.25,
    vcols: ["#fdf0e3", "#e7f4e9", "#f0eded", "#efeaf6"], yticks: ticks8, yfmt: ".1f", pct: pcBphc[2],
    ylabX: 1042, titleX: 1197, title: "(8) PC BPHC (03 & 00 exceed 06 & 10)"
});
</script>
</body>
</html>
